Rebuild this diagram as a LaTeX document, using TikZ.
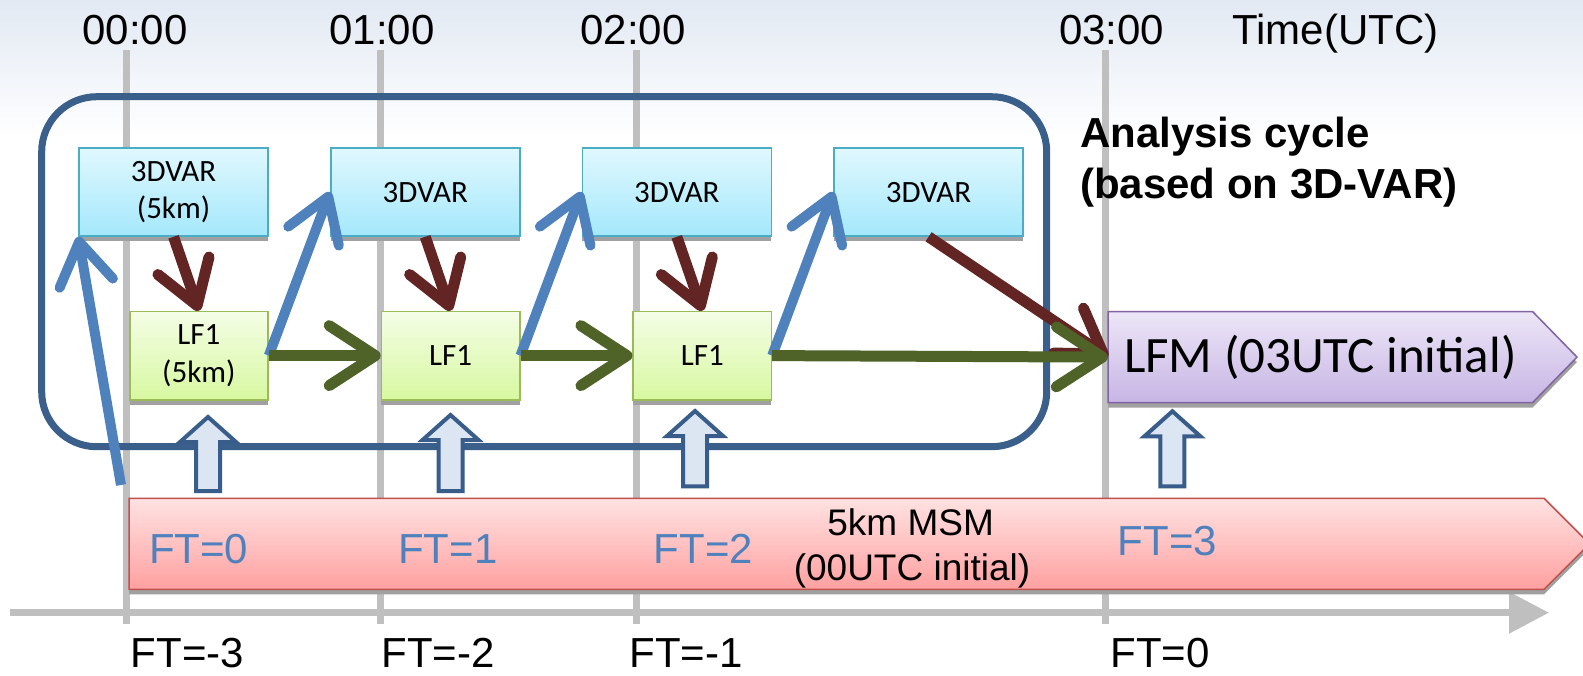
\documentclass[tikz,border=0pt]{standalone}
\usepackage{fontspec}
\setmainfont{Liberation Sans}
\newfontfamily\calfont{Carlito}
\usetikzlibrary{arrows.meta,shadows}
\definecolor{bgtop}{HTML}{E2E9F3}
\definecolor{cyclec}{HTML}{3A5F8B}
\definecolor{gridc}{HTML}{BFBFBF}
\definecolor{dvtop}{HTML}{E0F8FE}
\definecolor{dvbot}{HTML}{A4E8FB}
\definecolor{dvline}{HTML}{4BACC6}
\definecolor{lftop}{HTML}{F4FDE6}
\definecolor{lfbot}{HTML}{D7F8A0}
\definecolor{lfline}{HTML}{9BBB59}
\definecolor{lmtop}{HTML}{ECE6F7}
\definecolor{lmbot}{HTML}{C7B5E4}
\definecolor{lmline}{HTML}{8064A2}
\definecolor{mstop}{HTML}{FFE2E2}
\definecolor{msbot}{HTML}{FFA0A0}
\definecolor{msline}{HTML}{C0504D}
\definecolor{holfill}{HTML}{DCE6F2}
\definecolor{holline}{HTML}{385D8A}
\definecolor{bluec}{HTML}{4F81BD}
\definecolor{brownc}{HTML}{632523}
\definecolor{greenc}{HTML}{4F6228}
\definecolor{shadc}{HTML}{A0A0A0}
\newcommand\holarrow[3]{%
  \draw[holl] ({#1-12},#3) -- ({#1-12},{#2+28}) -- ({#1-28},{#2+28}) -- (#1,{#2+3})
    -- ({#1+28},{#2+28}) -- ({#1+12},{#2+28}) -- ({#1+12},#3) -- cycle;}
\begin{document}
\begin{tikzpicture}[x=1pt,y=-1pt,
  shad/.style={drop shadow={shadow xshift=0pt,shadow yshift=-5pt,fill=shadc,opacity=1}},
  dvbox/.style={shad,draw=dvline,line width=1.5pt,top color=dvtop,bottom color=dvbot,
    minimum width=189pt,minimum height=88pt,inner sep=0pt,anchor=north west,align=center,
    font=\calfont\fontsize{31}{37.5}\selectfont},
  lfbox/.style={shad,draw=lfline,line width=1.5pt,top color=lftop,bottom color=lfbot,
    minimum width=138.3pt,minimum height=88.3pt,inner sep=0pt,anchor=north west,align=center,
    font=\calfont\fontsize{31}{38.5}\selectfont},
  toplab/.style={anchor=base,inner sep=0pt,font=\fontsize{42}{50}\selectfont},
  ftlab/.style={anchor=base,inner sep=0pt,text=bluec,font=\fontsize{42}{50}\selectfont},
  msmlab/.style={anchor=base,inner sep=0pt,font=\fontsize{37}{45}\selectfont},
  gridline/.style={draw=gridc,line width=7pt},
  holl/.style={draw=holline,line width=4pt,fill=holfill,line join=miter},
  bluearr/.style={draw=bluec,line width=10pt,-{Straight Barb[length=42pt,width=54pt,round]}},
  brownarr/.style={draw=brownc,line width=11pt,-{Straight Barb[length=42pt,width=54pt,round]}},
  greenarr/.style={draw=greenc,line width=11pt,-{Straight Barb[length=46pt,width=60pt,round]}}]
\useasboundingbox (0,0) rectangle (1583,675);
\fill[white] (0,0) rectangle (1583,675);
\fill[top color=bgtop,bottom color=white] (0,0) rectangle (1583,140);

% time grid
\draw[gridline] (126,50) -- (126,624);
\draw[gridline] (380,50) -- (380,624);
\draw[gridline] (636,50) -- (636,624);
\draw[gridline] (1105,50) -- (1105,624);
\coordinate (axl) at (10,612.7);
\coordinate (axr) at (1549,612.7);
\draw[draw=gridc,line width=7pt,-{Triangle[length=40pt,width=40pt]}] (axl) -- (axr);

% titles
\node[toplab] (t0) at (135,44) {00:00};
\node[toplab] (t1) at (382,44) {01:00};
\node[toplab] (t2) at (633,44) {02:00};
\node[toplab] (t3) at (1111.6,44) {03:00};
\node[toplab] (tu) at (1335.5,44) {Time(UTC)};
\node[anchor=base west,inner sep=0pt,font=\bfseries\fontsize{42}{50}\selectfont] (ac1) at (1080,147) {Analysis cycle};
\node[anchor=base west,inner sep=0pt,font=\bfseries\fontsize{42}{50}\selectfont] (ac2) at (1080,198) {(based on 3D-VAR)};

\node[toplab] (f3) at (187.5,667) {FT=-3};
\node[toplab] (f2) at (438,667) {FT=-2};
\node[toplab] (f1) at (686,667) {FT=-1};
\node[toplab] (f0) at (1160,667) {FT=0};

% MSM arrow
\path[shad,draw=msline,line width=1.5pt,top color=mstop,bottom color=msbot]
  (129,498.3) -- (1544,498.3) -- (1589.5,543.8) -- (1544,589.3) -- (129,589.3) -- cycle;
\node[minimum width=1415pt,minimum height=91pt,inner sep=0pt] (msm) at (836.5,543.8) {};
\node[ftlab] (m0) at (198.7,563) {FT=0};
\node[ftlab] (m1) at (447.8,563) {FT=1};
\node[ftlab] (m2) at (703.5,563) {FT=2};
\node[ftlab] (m3) at (1167.4,555) {FT=3};
\node[msmlab] (ms1) at (910.6,535) {5km MSM};
\node[msmlab] (ms2) at (912,580) {(00UTC initial)};

% LFM arrow
\path[shad,draw=lmline,line width=1.5pt,top color=lmtop,bottom color=lmbot]
  (1108,311.7) -- (1532.7,311.7) -- (1577,357.1) -- (1532.7,402.5) -- (1108,402.5) -- cycle;
\node[minimum width=424.7pt,minimum height=90.8pt,inner sep=0pt,font=\calfont\fontsize{51}{58}\selectfont] (lfm) at (1320.4,357.1) {LFM (03UTC initial)};

% analysis cycle frame
\draw[cyclec,line width=7pt,rounded corners=55pt] (41.7,96.7) rectangle (1046.7,446.7);

% 3DVAR boxes
\node[dvbox] (d1) at (78.3,147.3) {3DVAR\\(5km)};
\node[dvbox] (d2) at (330,147.3) {3DVAR};
\node[dvbox] (d3) at (581.6,147.3) {3DVAR};
\node[dvbox] (d4) at (833.3,147.3) {3DVAR};

% LF1 boxes
\node[lfbox] (l1) at (129,310.7) {LF1\\(5km)};
\node[lfbox] (l2) at (380.7,310.7) {LF1};
\node[lfbox] (l3) at (632.4,310.7) {LF1};

% arrows
\coordinate (b0) at (121,485);
\draw[bluearr] (b0) -- (d1.south west);
\draw[bluearr] (l1.east) -- (d2.west);
\draw[bluearr] (l2.east) -- (d3.west);
\draw[bluearr] (l3.east) -- (d4.west);
\draw[brownarr] (d1.south) -- (l1.north);
\draw[brownarr] (d2.south) -- (l2.north);
\draw[brownarr] (d3.south) -- (l3.north);
\draw[brownarr] (d4.south) -- (lfm.west);
\draw[greenarr] (l1.east) -- (l2.west);
\draw[greenarr] (l2.east) -- (l3.west);
\draw[greenarr] (l3.east) -- (lfm.west);

% hollow up arrows
\holarrow{208}{414}{491}
\holarrow{450.5}{412}{491}
\holarrow{695}{408}{486.3}
\holarrow{1172.4}{408.3}{486.3}
\end{tikzpicture}
\end{document}
